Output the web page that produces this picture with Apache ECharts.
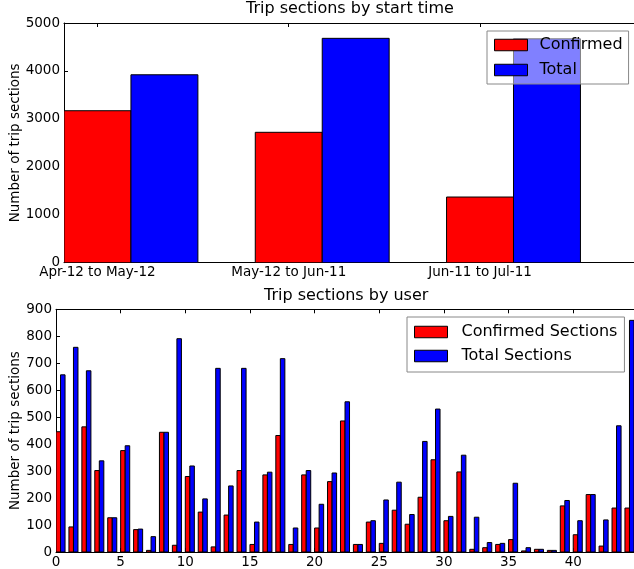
<!DOCTYPE html>
<html>
<head>
<meta charset="utf-8">
<style type="text/css">
html, body{margin: 0; padding: 0; background: #fff}
#main{width: 634px; height: 569px}
</style>
<script src="https://cdn.jsdelivr.net/npm/echarts@6/dist/echarts.min.js"></script>
</head>
<body>
<div id="main"></div>
<script type="text/javascript">
// top plot: sections by start time
var periodLabels = ['Apr-12 to May-12', 'May-12 to Jun-11', 'Jun-11 to Jul-11'];
var periodConfirmed = [3170, 2720, 1370];
var periodTotal = [3920, 4680, 4670];

// bottom plot: sections by user (user index 0..44)
var userConfirmed = [446, 93, 464, 302, 127, 376, 83, 6, 444, 25,
    280, 148, 19, 137, 302, 28, 286, 432, 28, 286,
    89, 261, 486, 28, 111, 32, 155, 103, 203, 342,
    116, 297, 10, 16, 28, 46, 4, 10, 6, 171,
    64, 213, 22, 163, 163];
var userTotal = [657, 759, 672, 338, 127, 394, 85, 57, 444, 791,
    319, 197, 681, 245, 681, 111, 296, 717, 89, 302,
    177, 293, 557, 28, 116, 193, 259, 139, 410, 530,
    132, 359, 129, 35, 32, 255, 16, 10, 6, 191,
    116, 213, 119, 468, 859];

var FONT = 'DejaVu Sans';
var W = 0.35; // bar width in data units
var periodTicks = periodLabels.map(function(l, i){ return i + W / 2; });

function barItem(off){
    return function(params, api){
        var x = api.value(0) + off;
        var p0 = api.coord([x, 0]);
        var p1 = api.coord([x + W, api.value(1)]);
        return {
            type: 'rect',
            shape: {x: p0[0], y: p1[1], width: p1[0] - p0[0], height: p0[1] - p1[1]},
            style: {fill: api.visual('color'), stroke: '#000', lineWidth: 1}
        };
    };
}
function pairs(arr){
    return arr.map(function(v, i){ return [i, v]; });
}
function plain(v){ return String(v); }

var spine = {show: true, lineStyle: {color: '#000', width: 1}};
var tick = {show: true, inside: true, length: 4, lineStyle: {color: '#000'}};

var chart = echarts.init(document.getElementById('main'));
var option = {
    animation: false,
    textStyle: {fontFamily: FONT},
    title: [
        {text: 'Trip sections by start time', left: 246, top: 1, padding: 0,
         textStyle: {fontFamily: FONT, fontSize: 16, fontWeight: 'normal', color: '#000'}},
        {text: 'Trip sections by user', left: 264, top: 288, padding: 0,
         textStyle: {fontFamily: FONT, fontSize: 16, fontWeight: 'normal', color: '#000'}}
    ],
    legend: [
        {
            data: [
                {name: 'Confirmed', icon: 'rect', itemStyle: {color: '#ff0000', borderColor: '#000', borderWidth: 1}},
                {name: 'Total', icon: 'rect', itemStyle: {color: '#0000ff', borderColor: '#000', borderWidth: 1}}
            ],
            orient: 'vertical', left: 487, top: 31,
            padding: [6, 6, 6, 7], itemGap: 9, itemWidth: 33, itemHeight: 11.5,
            backgroundColor: 'rgba(255,255,255,0.5)', borderColor: '#888', borderWidth: 1,
            selectedMode: false,
            textStyle: {fontFamily: FONT, fontSize: 16, color: '#000', padding: [0, 0, 0, 7]}
        },
        {
            data: [
                {name: 'Confirmed Sections', icon: 'rect', itemStyle: {color: '#ff0000', borderColor: '#000', borderWidth: 1}},
                {name: 'Total Sections', icon: 'rect', itemStyle: {color: '#0000ff', borderColor: '#000', borderWidth: 1}}
            ],
            orient: 'vertical', left: 407, top: 317,
            padding: [7, 7, 8, 7], itemGap: 8, itemWidth: 33, itemHeight: 11.5,
            backgroundColor: 'rgba(255,255,255,0.5)', borderColor: '#888', borderWidth: 1,
            selectedMode: false,
            textStyle: {fontFamily: FONT, fontSize: 16, color: '#000', padding: [0, 0, 0, 9]}
        }
    ],
    grid: [
        {left: 64, top: 23, right: 0, height: 239.7, outerBoundsMode: 'none', containLabel: false},
        {left: 56, top: 309.3, right: 0, bottom: 17, outerBoundsMode: 'none', containLabel: false}
    ],
    xAxis: [
        {
            type: 'value', gridIndex: 0, position: 'bottom', min: 0, max: 2.98,
            axisLine: spine, splitLine: {show: false},
            axisTick: {show: true, inside: true, length: 4, lineStyle: {color: '#000'}, customValues: periodTicks},
            axisLabel: {color: '#000', fontFamily: FONT, fontSize: 13.5, margin: 3, customValues: periodTicks,
                formatter: function(v){ return periodLabels[Math.round(v - W / 2)]; }}
        },
        {
            type: 'value', gridIndex: 0, position: 'top', min: 0, max: 2.98,
            axisLine: spine, splitLine: {show: false},
            axisTick: {show: true, inside: true, length: 4, lineStyle: {color: '#000'}, customValues: periodTicks},
            axisLabel: {show: false}
        },
        {
            type: 'value', gridIndex: 1, position: 'bottom', min: 0, max: 44.7, interval: 5,
            axisLine: spine, axisTick: tick, splitLine: {show: false},
            axisLabel: {color: '#000', fontFamily: FONT, fontSize: 13.5, margin: 3, showMaxLabel: false, formatter: plain}
        },
        {
            type: 'value', gridIndex: 1, position: 'top', min: 0, max: 44.7, interval: 5,
            axisLine: spine, axisTick: tick, splitLine: {show: false},
            axisLabel: {show: false}
        }
    ],
    yAxis: [
        {
            type: 'value', gridIndex: 0, min: 0, max: 5000, interval: 1000,
            axisLine: spine, axisTick: tick, splitLine: {show: false},
            axisLabel: {color: '#000', fontFamily: FONT, fontSize: 13.5, margin: 4, formatter: plain},
            name: 'Number of trip sections', nameLocation: 'middle', nameGap: 42, nameMoveOverlap: false,
            nameTextStyle: {color: '#000', fontFamily: FONT, fontSize: 13.5}
        },
        {
            type: 'value', gridIndex: 1, min: 0, max: 900, interval: 100,
            axisLine: spine, axisTick: tick, splitLine: {show: false},
            axisLabel: {color: '#000', fontFamily: FONT, fontSize: 13.5, margin: 4, formatter: plain},
            name: 'Number of trip sections', nameLocation: 'middle', nameGap: 34, nameMoveOverlap: false,
            nameTextStyle: {color: '#000', fontFamily: FONT, fontSize: 13.5}
        }
    ],
    series: [
        {name: 'Confirmed', type: 'custom', xAxisIndex: 0, yAxisIndex: 0, clip: true,
         itemStyle: {color: '#ff0000'}, encode: {x: 0, y: 1},
         data: pairs(periodConfirmed), renderItem: barItem(0)},
        {name: 'Total', type: 'custom', xAxisIndex: 0, yAxisIndex: 0, clip: true,
         itemStyle: {color: '#0000ff'}, encode: {x: 0, y: 1},
         data: pairs(periodTotal), renderItem: barItem(W)},
        {name: 'Confirmed Sections', type: 'custom', xAxisIndex: 2, yAxisIndex: 1, clip: true,
         itemStyle: {color: '#ff0000'}, encode: {x: 0, y: 1},
         data: pairs(userConfirmed), renderItem: barItem(0)},
        {name: 'Total Sections', type: 'custom', xAxisIndex: 2, yAxisIndex: 1, clip: true,
         itemStyle: {color: '#0000ff'}, encode: {x: 0, y: 1},
         data: pairs(userTotal), renderItem: barItem(W)}
    ]
};
chart.setOption(option);
</script>
</body>
</html>
